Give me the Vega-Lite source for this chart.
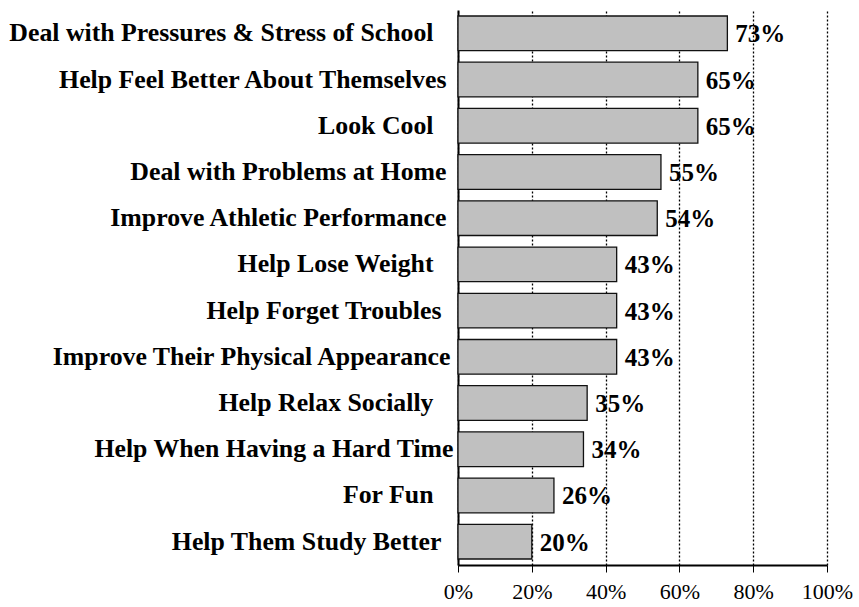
{
  "$schema": "https://vega.github.io/schema/vega-lite/v6.json",
  "autosize": {"type": "none"},
  "width": 369,
  "height": 555,
  "padding": {"left": 458, "top": 10, "right": 32, "bottom": 42},
  "background": "white",
  "config": {"view": {"stroke": null}, "font": "Liberation Serif"},
  "data": {"values": [
    {"reason": "Deal with Pressures & Stress of School", "pct": 0.73},
    {"reason": "Help Feel Better About Themselves", "pct": 0.65},
    {"reason": "Look Cool", "pct": 0.65},
    {"reason": "Deal with Problems at Home", "pct": 0.55},
    {"reason": "Improve Athletic Performance", "pct": 0.54},
    {"reason": "Help Lose Weight", "pct": 0.43},
    {"reason": "Help Forget Troubles", "pct": 0.43},
    {"reason": "Improve Their Physical Appearance", "pct": 0.43},
    {"reason": "Help Relax Socially", "pct": 0.35},
    {"reason": "Help When Having a Hard Time", "pct": 0.34},
    {"reason": "For Fun", "pct": 0.26},
    {"reason": "Help Them Study Better", "pct": 0.20}
  ]},
  "encoding": {
    "y": {
      "field": "reason", "type": "nominal", "sort": null,
      "scale": {"paddingInner": 0.25, "paddingOuter": 0.13},
      "axis": {
        "title": null, "ticks": false, "grid": false,
        "domain": true, "domainColor": "black", "domainWidth": 2,
        "labelFont": "Liberation Serif", "labelFontWeight": "bold", "labelFontSize": 25.8,
        "labelColor": "black", "labelLimit": 0,
        "labelPadding": {
          "condition": [
            {"test": "indexof(['Deal with Pressures & Stress of School', 'Look Cool', 'Help Lose Weight', 'Help Relax Socially', 'For Fun'], datum.value) >= 0", "value": 25},
            {"test": "indexof(['Help Forget Troubles', 'Help Them Study Better'], datum.value) >= 0", "value": 17},
            {"test": "datum.value == 'Improve Their Physical Appearance'", "value": 8},
            {"test": "datum.value == 'Help When Having a Hard Time'", "value": 5}
          ],
          "value": 12
        }
      }
    },
    "x": {
      "field": "pct", "type": "quantitative",
      "scale": {"domain": [0, 1], "nice": false},
      "axis": {
        "title": null, "values": [0, 0.2, 0.4, 0.6, 0.8, 1], "format": ".0%",
        "labelFont": "Liberation Serif", "labelFontSize": 22, "labelColor": "black",
        "labelPadding": 9, "tickSize": 7, "tickColor": "black", "tickWidth": 1,
        "domain": true, "domainColor": "black", "domainWidth": 2,
        "grid": true, "gridColor": "black", "gridDash": [2, 2], "gridWidth": 1.3,
        "labelFlush": false
      }
    }
  },
  "layer": [
    {
      "mark": {"type": "bar", "fill": "#c0c0c0", "stroke": "#111111", "strokeWidth": 1.3}
    },
    {
      "mark": {"type": "text", "align": "left", "baseline": "middle", "dx": 8, "dy": 1,
               "font": "Liberation Serif", "fontWeight": "bold", "fontSize": 25, "color": "black"},
      "encoding": {"text": {"field": "pct", "type": "quantitative", "format": ".0%"}}
    }
  ]
}
